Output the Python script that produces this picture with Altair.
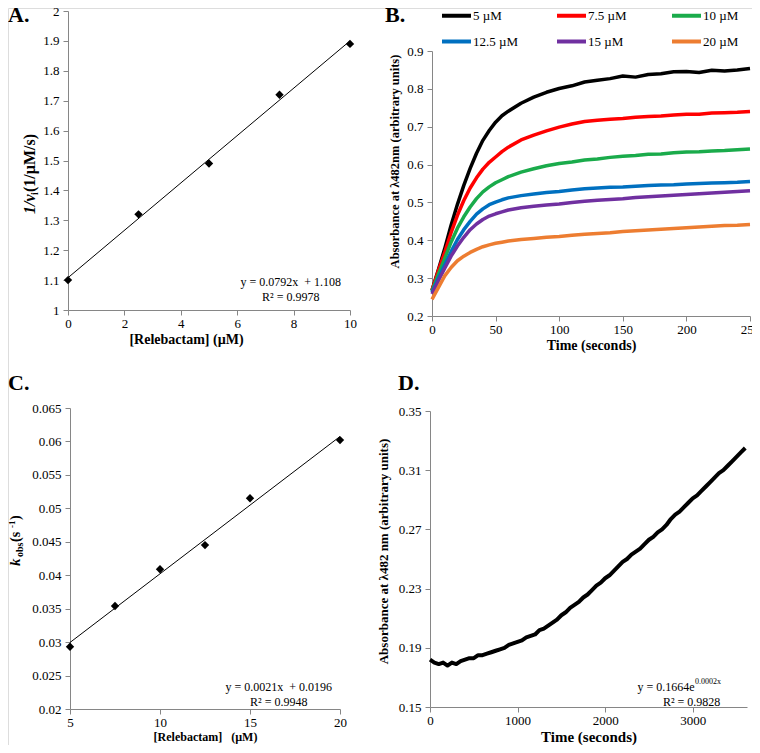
import altair as alt
import pandas as pd

FONT = "Liberation Serif"
AXC = "#868686"
W, H = 744, 737

# ---------------- data ----------------
# Panel A: Dixon-type plot
a_conc = [0, 2.5, 5, 7.5, 10]
a_inv_rate = [1.10, 1.32, 1.49, 1.72, 1.89]
a_eq_lines = ["y = 0.0792x\u00a0 + 1.108", "R\u00b2 = 0.9978"]

# Panel B: progress curves
b_series = ["5 \u00b5M", "7.5 \u00b5M", "10 \u00b5M", "12.5 \u00b5M", "15 \u00b5M", "20 \u00b5M"]
b_colors = ["#000000", "#FF0000", "#1AAB4B", "#0070C0", "#7030A0", "#ED7D31"]
b_time = [0, 5, 10, 15, 20, 25, 30, 35, 40, 45, 50, 55, 60,
          70, 80, 90, 100, 110, 120, 130, 140, 150, 160, 170, 180, 190, 200, 210, 220, 230, 240, 250]
b_5uM = [0.268, 0.322, 0.378, 0.440, 0.495, 0.545, 0.590, 0.630, 0.664, 0.690, 0.712, 0.729, 0.741,
         0.762, 0.778, 0.791, 0.801, 0.808, 0.818, 0.823, 0.827, 0.834, 0.831, 0.838, 0.840, 0.845,
         0.846, 0.843, 0.849, 0.847, 0.850, 0.854]
b_7_5uM = [0.268, 0.320, 0.368, 0.420, 0.466, 0.505, 0.538, 0.565, 0.588, 0.606, 0.620, 0.634, 0.646,
           0.665, 0.678, 0.689, 0.699, 0.707, 0.714, 0.717, 0.720, 0.722, 0.725, 0.727, 0.728, 0.731,
           0.733, 0.733, 0.736, 0.737, 0.738, 0.740]
b_10uM = [0.265, 0.310, 0.352, 0.395, 0.432, 0.462, 0.488, 0.510, 0.528, 0.541, 0.552, 0.560, 0.568,
          0.580, 0.589, 0.597, 0.603, 0.607, 0.612, 0.615, 0.619, 0.622, 0.624, 0.627, 0.628, 0.631,
          0.633, 0.634, 0.636, 0.637, 0.639, 0.641]
b_12_5uM = [0.262, 0.300, 0.335, 0.370, 0.402, 0.428, 0.450, 0.469, 0.483, 0.494, 0.501, 0.507, 0.512,
            0.518, 0.522, 0.526, 0.529, 0.533, 0.536, 0.538, 0.540, 0.541, 0.543, 0.545, 0.546, 0.547,
            0.549, 0.550, 0.551, 0.552, 0.553, 0.555]
b_15uM = [0.258, 0.293, 0.326, 0.358, 0.385, 0.408, 0.428, 0.443, 0.455, 0.464, 0.470, 0.475, 0.480,
          0.486, 0.490, 0.493, 0.496, 0.500, 0.503, 0.506, 0.508, 0.510, 0.513, 0.515, 0.517, 0.519,
          0.521, 0.523, 0.525, 0.527, 0.529, 0.531]
b_20uM = [0.244, 0.275, 0.306, 0.328, 0.346, 0.358, 0.368, 0.376, 0.383, 0.388, 0.392, 0.395, 0.398,
          0.402, 0.405, 0.408, 0.410, 0.413, 0.416, 0.418, 0.420, 0.423, 0.425, 0.427, 0.429, 0.431,
          0.433, 0.435, 0.437, 0.439, 0.440, 0.442]

# Panel C: kobs vs concentration
c_conc = [5, 7.5, 10, 12.5, 15, 20]
c_kobs = [0.0293, 0.0354, 0.0409, 0.0445, 0.0515, 0.0602]
c_eq_lines = ["y = 0.0021x\u00a0 + 0.0196", "R\u00b2 = 0.9948"]

# Panel D: slow hydrolysis trace
d_time = [0, 50, 100, 150, 200, 250, 300, 350, 400, 450, 500, 550, 600, 650, 700, 750, 800, 850,
          900, 950, 1000, 1050, 1100, 1150, 1200, 1250, 1300, 1350, 1400, 1450, 1500, 1550, 1600,
          1650, 1700, 1750, 1800, 1850, 1900, 1950, 2000, 2050, 2100, 2150, 2200, 2250, 2300, 2350,
          2400, 2450, 2500, 2550, 2600, 2650, 2700, 2750, 2800, 2850, 2900, 2950, 3000, 3050, 3100,
          3150, 3200, 3250, 3300, 3350, 3400, 3450, 3500, 3550, 3600]
d_abs = [0.182, 0.180, 0.179, 0.180, 0.178, 0.180, 0.179, 0.181, 0.182, 0.183, 0.183, 0.185, 0.185,
         0.186, 0.187, 0.188, 0.189, 0.190, 0.192, 0.193, 0.194, 0.195, 0.197, 0.198, 0.199, 0.202,
         0.203, 0.205, 0.207, 0.209, 0.212, 0.214, 0.217, 0.219, 0.221, 0.224, 0.226, 0.229, 0.232,
         0.234, 0.237, 0.239, 0.242, 0.245, 0.248, 0.250, 0.253, 0.255, 0.257, 0.260, 0.263, 0.265,
         0.268, 0.270, 0.273, 0.277, 0.280, 0.282, 0.285, 0.288, 0.291, 0.293, 0.296, 0.299, 0.302,
         0.305, 0.308, 0.310, 0.313, 0.316, 0.319, 0.322, 0.325]
d_eq_main = "y = 0.1664e"
d_eq_exp = "0.0002x"
d_eq_r2 = "R\u00b2 = 0.9828"

# ---------------- layout (pixel geometry of each plot area) ----------------
A_X, A_Y = [60, 342], [302, 3]
B_X, B_Y = [424, 742], [308, 43]
C_X, C_Y = [62, 332], [701, 400]
D_X, D_Y = [422, 739], [699, 403]


def xaxis(bottom, values, title, size, title_x=None):
    kw = dict(orient="bottom", offset=bottom - H, values=values, format="~r", grid=False,
              domainColor=AXC, tickColor=AXC, tickSize=5, labelFont=FONT, labelFontSize=13,
              labelColor="black", labelPadding=2, labelFlush=False, labelOverlap=False,
              title=title, titleFont=FONT, titleFontSize=size, titleFontWeight="bold",
              titleColor="black", titlePadding=2)
    if title_x is not None:
        kw["titleX"] = title_x
    return alt.Axis(**kw)


def yaxis(left, values, title="", size=12, title_y=None, title_pad=4):
    kw = dict(orient="left", offset=-left, values=values, format="~r", grid=False,
              domainColor=AXC, tickColor=AXC, tickSize=5, labelFont=FONT, labelFontSize=13,
              labelColor="black", labelPadding=4, labelFlush=False, labelOverlap=False,
              title=title, titleFont=FONT, titleFontSize=size, titleFontWeight="bold",
              titleColor="black", titlePadding=title_pad)
    if title_y is not None:
        kw["titleY"] = title_y
    return alt.Axis(**kw)


def one_row():
    return alt.Data(values=[{}])


def label(text, x, y, size=22, bold=True, style="normal", angle=0, align="left"):
    return alt.Chart(one_row()).mark_text(
        text=text, font=FONT, fontSize=size, fontWeight="bold" if bold else "normal",
        fontStyle=style, angle=angle, align=align, baseline="alphabetic", color="black"
    ).encode(x=alt.value(x), y=alt.value(y))


def note(df, xenc, yenc, size=12, align="center"):
    return alt.Chart(df).mark_text(font=FONT, fontSize=size, color="black", align=align).encode(
        x=xenc, y=yenc, text="label:N")


# ---------------- Panel A ----------------
dfA = pd.DataFrame({"x": a_conc, "y": a_inv_rate})
xA = alt.X("x:Q", scale=alt.Scale(domain=[0, 10], range=A_X, nice=False, zero=False),
           axis=xaxis(A_Y[0], [0, 2, 4, 6, 8, 10], "[Relebactam] (\u00b5M)", 14, title_x=178))
yA = alt.Y("y:Q", scale=alt.Scale(domain=[1, 2], range=A_Y, nice=False, zero=False),
           axis=yaxis(A_X[0], [1, 1.1, 1.2, 1.3, 1.4, 1.5, 1.6, 1.7, 1.8, 1.9, 2]))
ptsA = alt.Chart(dfA).mark_point(shape="diamond", filled=True, color="black", size=70, opacity=1).encode(x=xA, y=yA)
fitA = alt.Chart(dfA).transform_regression("x", "y", extent=[0, 10]).mark_line(
    color="black", strokeWidth=1).encode(x=xA, y=yA)
eqA = note(pd.DataFrame({"x": [7.9, 7.9], "y": [1.094, 1.0435], "label": a_eq_lines}), xA, yA)
panelA = alt.layer(fitA, ptsA, eqA)

# ---------------- Panel B ----------------
dfB = pd.DataFrame({
    "t": b_time * 6,
    "v": b_5uM + b_7_5uM + b_10uM + b_12_5uM + b_15uM + b_20uM,
    "series": [s for s in b_series for _ in b_time],
})
linesB = alt.Chart(dfB).mark_line(strokeWidth=3.5, strokeJoin="round").encode(
    x=alt.X("t:Q", scale=alt.Scale(domain=[0, 250], range=B_X, nice=False, zero=False),
            axis=xaxis(B_Y[0], [0, 50, 100, 150, 200, 250], "Time (seconds)", 14)),
    y=alt.Y("v:Q", scale=alt.Scale(domain=[0.2, 0.9], range=B_Y, nice=False, zero=False),
            axis=yaxis(B_X[0], [0.2, 0.3, 0.4, 0.5, 0.6, 0.7, 0.8, 0.9],
                       "Absorbance at \u03bb482nm (arbitrary units)", 12.5, title_y=153, title_pad=5)),
    color=alt.Color("series:N", sort=b_series,
                    scale=alt.Scale(domain=b_series, range=b_colors),
                    legend=alt.Legend(orient="none", legendX=432, legendY=-9, direction="horizontal",
                                      columns=3, title=None, symbolType="stroke", symbolSize=841,
                                      symbolStrokeWidth=4, labelFont=FONT, labelFontSize=13,
                                      labelColor="black", labelOffset=0, gridAlign="all",
                                      columnPadding=30, rowPadding=1, padding=0)),
    order=alt.Order("t:Q"),
)
panelB = linesB

# ---------------- Panel C ----------------
dfC = pd.DataFrame({"x": c_conc, "y": c_kobs})
xC = alt.X("x:Q", scale=alt.Scale(domain=[5, 20], range=C_X, nice=False, zero=False),
           axis=xaxis(C_Y[0], [5, 10, 15, 20], "[Relebactam]\u00a0\u00a0 (\u00b5M)", 12))
yC = alt.Y("y:Q", scale=alt.Scale(domain=[0.02, 0.065], range=C_Y, nice=False, zero=False),
           axis=yaxis(C_X[0], [0.02, 0.025, 0.03, 0.035, 0.04, 0.045, 0.05, 0.055, 0.06, 0.065]))
ptsC = alt.Chart(dfC).mark_point(shape="diamond", filled=True, color="black", size=70, opacity=1).encode(x=xC, y=yC)
fitC = alt.Chart(dfC).transform_regression("x", "y", extent=[5, 20]).mark_line(
    color="black", strokeWidth=1).encode(x=xC, y=yC)
eqC = note(pd.DataFrame({"x": [16.6, 16.6], "y": [0.02333, 0.02109], "label": c_eq_lines}), xC, yC)
panelC = alt.layer(fitC, ptsC, eqC)

# ---------------- Panel D ----------------
dfD = pd.DataFrame({"t": d_time, "v": d_abs})
xD = alt.X("t:Q", scale=alt.Scale(domain=[0, 3620], range=D_X, nice=False, zero=False),
           axis=xaxis(D_Y[0], [0, 1000, 2000, 3000], "Time (seconds)", 15))
yD = alt.Y("v:Q", scale=alt.Scale(domain=[0.15, 0.35], range=D_Y, nice=False, zero=False),
           axis=yaxis(D_X[0], [0.15, 0.19, 0.23, 0.27, 0.31, 0.35],
                      "Absorbance at \u03bb482 nm (arbitrary units)", 13, title_y=543, title_pad=8))
lineD = alt.Chart(dfD).mark_line(color="black", strokeWidth=4, strokeJoin="round").encode(x=xD, y=yD)
eqD1 = note(pd.DataFrame({"t": [3022], "v": [0.1637], "label": [d_eq_main]}), xD, yD, 12, "right")
eqD2 = note(pd.DataFrame({"t": [3025], "v": [0.1672], "label": [d_eq_exp]}), xD, yD, 8, "left")
eqD3 = note(pd.DataFrame({"t": [2987], "v": [0.1536], "label": [d_eq_r2]}), xD, yD, 12, "center")
panelD = alt.layer(lineD, eqD1, eqD2, eqD3)

# ---------------- texts outside plot areas ----------------
titlesA = [
    label("1/v", 27, 206, size=16, style="italic", angle=270),
    label("i", 30, 187, size=10, angle=270),
    label("\u00a0(1/\u00b5M/s)", 27, 184, size=16, angle=270),
]
titlesC = [
    label("k", 12, 558, size=15, style="italic", angle=270),
    label("obs", 15, 549, size=10, angle=270),
    label("\u00a0(s", 12, 534, size=14, angle=270),
    label("-1", 7, 520, size=9, angle=270),
    label(")", 12, 512, size=14, angle=270),
]
panel_labels = [label("A.", 0, 14), label("B.", 377, 14), label("C.", 0, 382), label("D.", 390, 382)]

chart = alt.layer(panelA, panelB, panelC, panelD, *titlesA, *titlesC, *panel_labels).resolve_scale(
    x="independent", y="independent"
).properties(
    width=W, height=H, autosize=alt.AutoSizeParams(type="none"), padding=0
).configure_view(stroke=None).configure(background="white")

chart.save("out.html", embed_options={"renderer": "svg", "actions": False})
